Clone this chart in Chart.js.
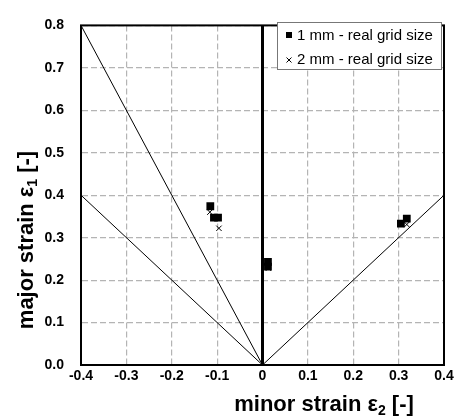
<!DOCTYPE html>
<html>
<head>
<meta charset="utf-8">
<script src="https://cdn.jsdelivr.net/npm/chart.js@4/dist/chart.umd.min.js"></script>
<style>
html,body{margin:0;padding:0;background:#fff;}
#wrap{width:457px;height:417px;}
</style>
</head>
<body>
<div id="wrap"><canvas id="c" width="457" height="417"></canvas></div>
<script>
// ---- data ----
const series1Label = "1 mm - real grid size";
const series1X = [-0.115, -0.107, -0.098, 0.012, 0.012, 0.305, 0.318];
const series1Y = [0.374, 0.347, 0.347, 0.243, 0.232, 0.333, 0.345];
const series2Label = "2 mm - real grid size";
const series2X = [-0.116, -0.096, 0.013, 0.318];
const series2Y = [0.360, 0.322, 0.228, 0.331];
// reference lines (endpoints)
const lineSteepX = [0, -0.4], lineSteepY = [0, 0.8];
const lineLeftX = [0, -0.4],  lineLeftY = [0, 0.4];
const lineRightX = [0, 0.4],  lineRightY = [0, 0.4];
const lineAxisX = [0, 0],     lineAxisY = [0, 0.8];
const xTitle = ["minor strain ε", "2", " [-]"];
const yTitle = ["major strain ε", "1", " [-]"];

const pts = (xs, ys) => xs.map((x, i) => ({x: x, y: ys[i]}));
const FONT = "Arial, 'Liberation Sans', sans-serif";

const lineDs = (xs, ys, w) => ({
  data: pts(xs, ys), showLine: true, borderColor: '#000', borderWidth: w,
  pointRadius: 0, pointHoverRadius: 0, fill: false
});

const overlay = {
  id: 'overlay',
  afterDraw(chart) {
    const ctx = chart.ctx, a = chart.chartArea;
    ctx.save();
    // plot border
    ctx.strokeStyle = '#000'; ctx.lineWidth = 2;
    ctx.strokeRect(a.left, a.top, a.right - a.left, a.bottom - a.top);
    // legend
    const bx = 277, by = 22, bw = 164, bh = 47;
    ctx.fillStyle = '#fff'; ctx.fillRect(bx, by, bw, bh);
    ctx.strokeStyle = '#777'; ctx.lineWidth = 1;
    ctx.strokeRect(bx + 0.5, by + 0.5, bw, bh);
    ctx.fillStyle = '#000';
    ctx.font = "15px " + FONT; ctx.textBaseline = 'middle'; ctx.textAlign = 'left';
    // row 1 square
    ctx.fillRect(286, 32, 6, 6);
    ctx.fillText(series1Label, 297, 35.5);
    // row 2 cross
    ctx.strokeStyle = '#000'; ctx.lineWidth = 1;
    ctx.beginPath();
    ctx.moveTo(286.5, 57.5); ctx.lineTo(291.5, 62.5);
    ctx.moveTo(291.5, 57.5); ctx.lineTo(286.5, 62.5);
    ctx.stroke();
    ctx.fillText(series2Label, 297, 60);
    // axis titles
    const drawTitle = (parts, cx, baseY) => {
      const big = "bold 22px " + FONT, small = "bold 14px " + FONT;
      ctx.font = big; const w1 = ctx.measureText(parts[0]).width, w3 = ctx.measureText(parts[2]).width;
      ctx.font = small; const w2 = ctx.measureText(parts[1]).width;
      let x = cx - (w1 + w2 + w3) / 2;
      ctx.textBaseline = 'alphabetic'; ctx.textAlign = 'left';
      ctx.font = big; ctx.fillText(parts[0], x, baseY); x += w1;
      ctx.font = small; ctx.fillText(parts[1], x, baseY + 4); x += w2;
      ctx.font = big; ctx.fillText(parts[2], x, baseY);
    };
    drawTitle(xTitle, 324, 411);
    ctx.translate(33, 240); ctx.rotate(-Math.PI / 2);
    drawTitle(yTitle, 0, 0);
    ctx.restore();
  }
};

new Chart(document.getElementById('c'), {
  type: 'scatter',
  data: {
    datasets: [
      lineDs(lineSteepX, lineSteepY, 1),
      lineDs(lineLeftX, lineLeftY, 1),
      lineDs(lineRightX, lineRightY, 1),
      lineDs(lineAxisX, lineAxisY, 3),
      { label: series1Label, data: pts(series1X, series1Y), pointStyle: 'rect',
        pointRadius: 5.5, backgroundColor: '#000', borderColor: '#000', borderWidth: 0 },
      { label: series2Label, data: pts(series2X, series2Y), pointStyle: 'crossRot',
        pointRadius: 3.8, backgroundColor: '#000', borderColor: '#000', borderWidth: 1 }
    ]
  },
  options: {
    responsive: false, animation: false,
    layout: { padding: { left: 0, right: 13, top: 10, bottom: 0 } },
    plugins: { legend: { display: false }, tooltip: { enabled: false } },
    scales: {
      x: {
        type: 'linear', min: -0.4, max: 0.4,
        ticks: { stepSize: 0.1, padding: 3, color: '#000',
          font: { family: FONT, size: 14, weight: 'bold' },
          callback: v => Math.abs(v) < 1e-9 ? '0' : v.toFixed(1) },
        grid: { color: '#b4b4b4', lineWidth: 1.2, drawTicks: false },
        border: { display: true, color: 'rgba(0,0,0,0)', dash: [6, 3] },
        afterFit: s => { s.height = 52; }
      },
      y: {
        type: 'linear', min: 0, max: 0.8,
        ticks: { stepSize: 0.1, padding: 17, color: '#000',
          font: { family: FONT, size: 14, weight: 'bold' },
          callback: v => v.toFixed(1) },
        grid: { color: '#b4b4b4', lineWidth: 1.2, drawTicks: false },
        border: { display: true, color: 'rgba(0,0,0,0)', dash: [6, 3] },
        afterFit: s => { s.width = 81; }
      }
    }
  },
  plugins: [overlay]
});
</script>
</body>
</html>
